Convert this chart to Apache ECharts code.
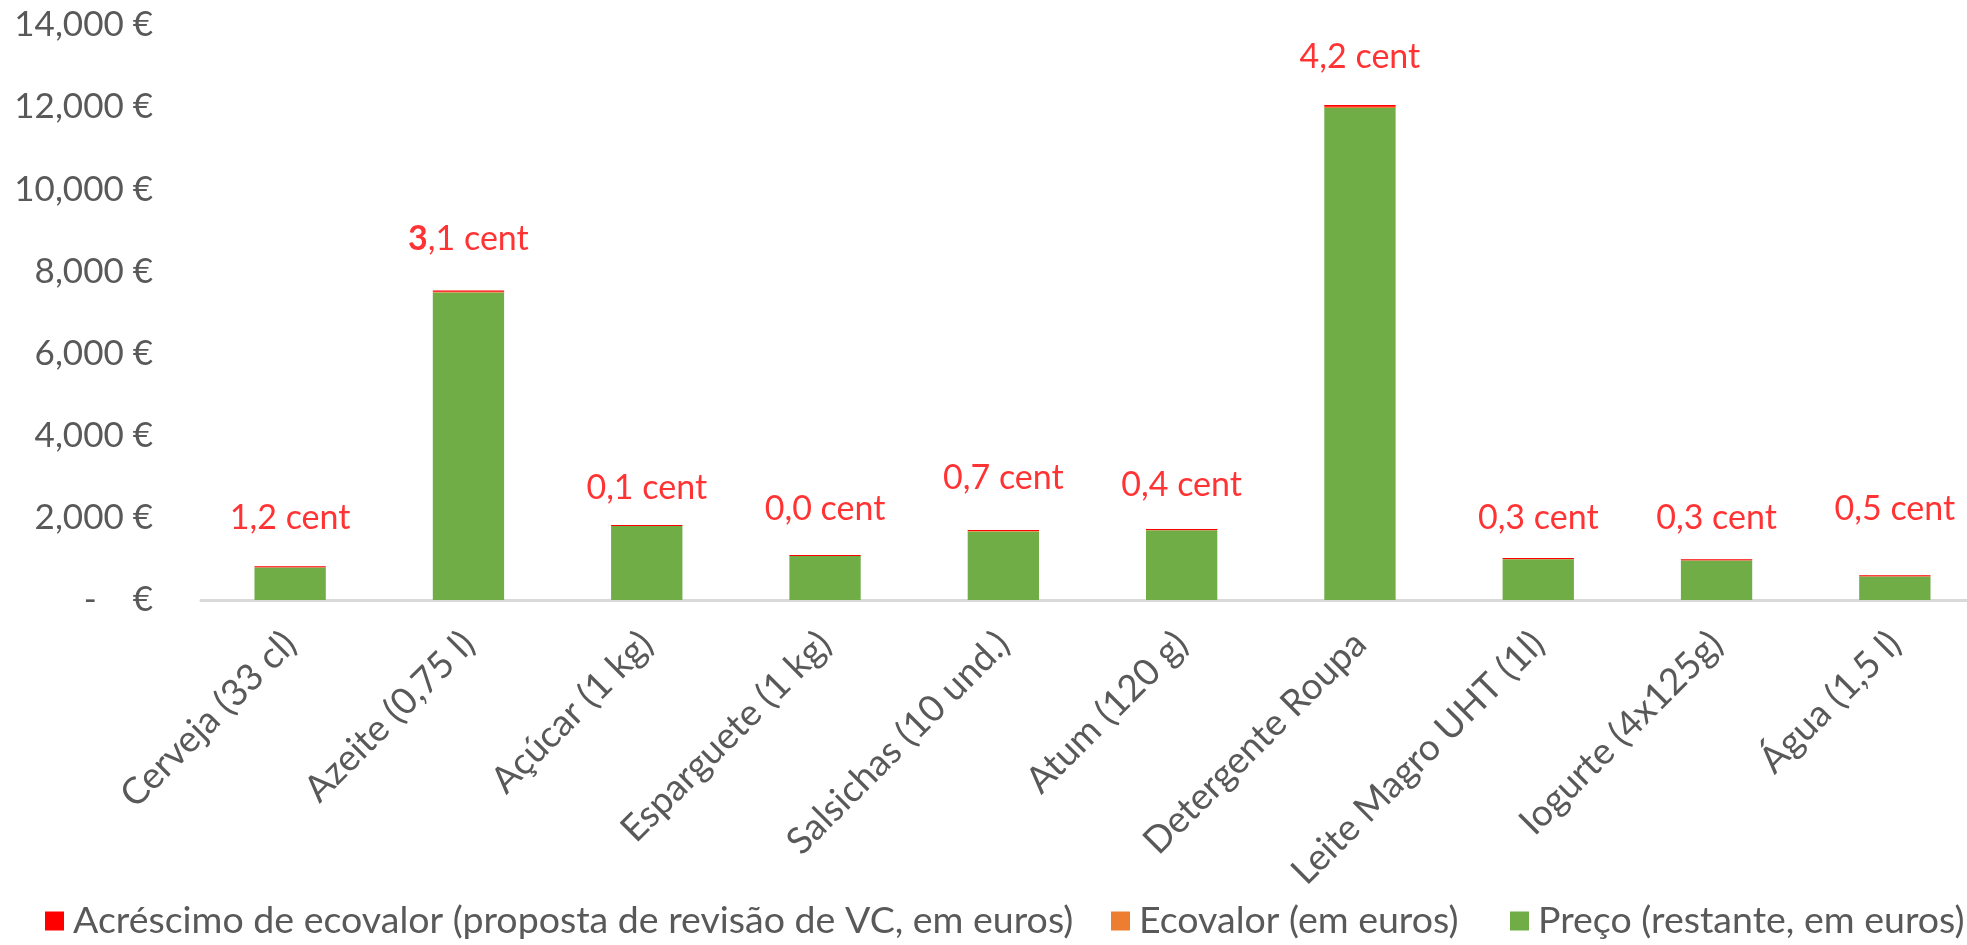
<!DOCTYPE html>
<html><head><meta charset="utf-8">
<script src="https://cdn.jsdelivr.net/npm/echarts@6/dist/echarts.min.js"></script>
<style>html,body{margin:0;padding:0;background:#fff}#c{width:1967px;height:945px}</style>
</head><body><div id="c"></div>
<script>
const categories = ['Cerveja (33 cl)','Azeite (0,75 l)','Açúcar (1 kg)','Esparguete (1 kg)','Salsichas (10 und.)','Atum (120 g)','Detergente Roupa','Leite Magro UHT (1l)','Iogurte (4x125g)','Água (1,5 l)'];
const preco = [0.79, 7.49, 1.80, 1.07, 1.67, 1.70, 11.98, 0.99, 0.96, 0.57];
const ecovalor = [0.006, 0.015, 0.004, 0.003, 0.008, 0.006, 0.030, 0.006, 0.006, 0.006];
const acrescimo = [0.012, 0.031, 0.001, 0.000, 0.007, 0.004, 0.042, 0.003, 0.003, 0.005];
const centLabels = ['1,2 cent','{b|3},1 cent','0,1 cent','0,0 cent','0,7 cent','0,4 cent','4,2 cent','0,3 cent','0,3 cent','0,5 cent'];
const labelLevel = [2.0, 8.8, 2.72, 2.22, 2.98, 2.8, 13.22, 2.0, 2.0, 2.22];
const yTicks = {min: 0, max: 14, interval: 2};
const seriesNames = ['Acréscimo de ecovalor (proposta de revisão de VC, em euros)','Ecovalor (em euros)','Preço (restante, em euros)'];

const FONT = 'Lato';
const GRAY = '#595959';
const chart = echarts.init(document.getElementById('c'));
function legendAt(name, left){
  return {data:[name], left: left, bottom: 0, orient:'horizontal', itemWidth:19, itemHeight:19, itemGap:0,
    icon:'rect', textStyle:{fontFamily:FONT, fontSize:37.5, color:GRAY, padding:[0,0,0,4]}};
}
chart.setOption({
  animation:false,
  textStyle:{fontFamily:FONT},
  grid:{left:201, top:25, width:1783, bottom:345, containLabel:false, outerBoundsMode:'none'},
  legend:[legendAt(seriesNames[0], 40), legendAt(seriesNames[1], 1106), legendAt(seriesNames[2], 1505)],
  xAxis:{type:'category', data:categories,
    axisLine:{lineStyle:{color:'#D9D9D9', width:3}}, axisTick:{show:false},
    axisLabel:{rotate:45, interval:0, margin:38, fontSize:37, color:GRAY, fontFamily:FONT}},
  yAxis:{type:'value', min:yTicks.min, max:yTicks.max, interval:yTicks.interval,
    splitLine:{show:false}, axisLine:{show:false}, axisTick:{show:false},
    axisLabel:{fontSize:35, color:GRAY, fontFamily:FONT, margin:48,
      formatter:v => v === 0 ? '-    €' : v.toFixed(3).replace('.', ',') + ' €'}},
  series:[
    {name:seriesNames[2], type:'bar', stack:'t', data:preco, barWidth:'40%', itemStyle:{color:'#70AD47'}},
    {name:seriesNames[1], type:'bar', stack:'t', data:ecovalor, itemStyle:{color:'#ED7D31'}},
    {name:seriesNames[0], type:'bar', stack:'t', data:acrescimo, barMinHeight:1, itemStyle:{color:'#FF0000'}},
    {type:'scatter', symbolSize:0, silent:true, data:labelLevel.map((v,i)=>[i,v]),
      label:{show:true, position:'inside', color:'#FF0000', fontSize:34, fontFamily:FONT,
        formatter:p => centLabels[p.dataIndex],
        rich:{b:{fontWeight:'bold', color:'#FF0000', fontSize:34, fontFamily:FONT}}}}
  ]
});
</script></body></html>
